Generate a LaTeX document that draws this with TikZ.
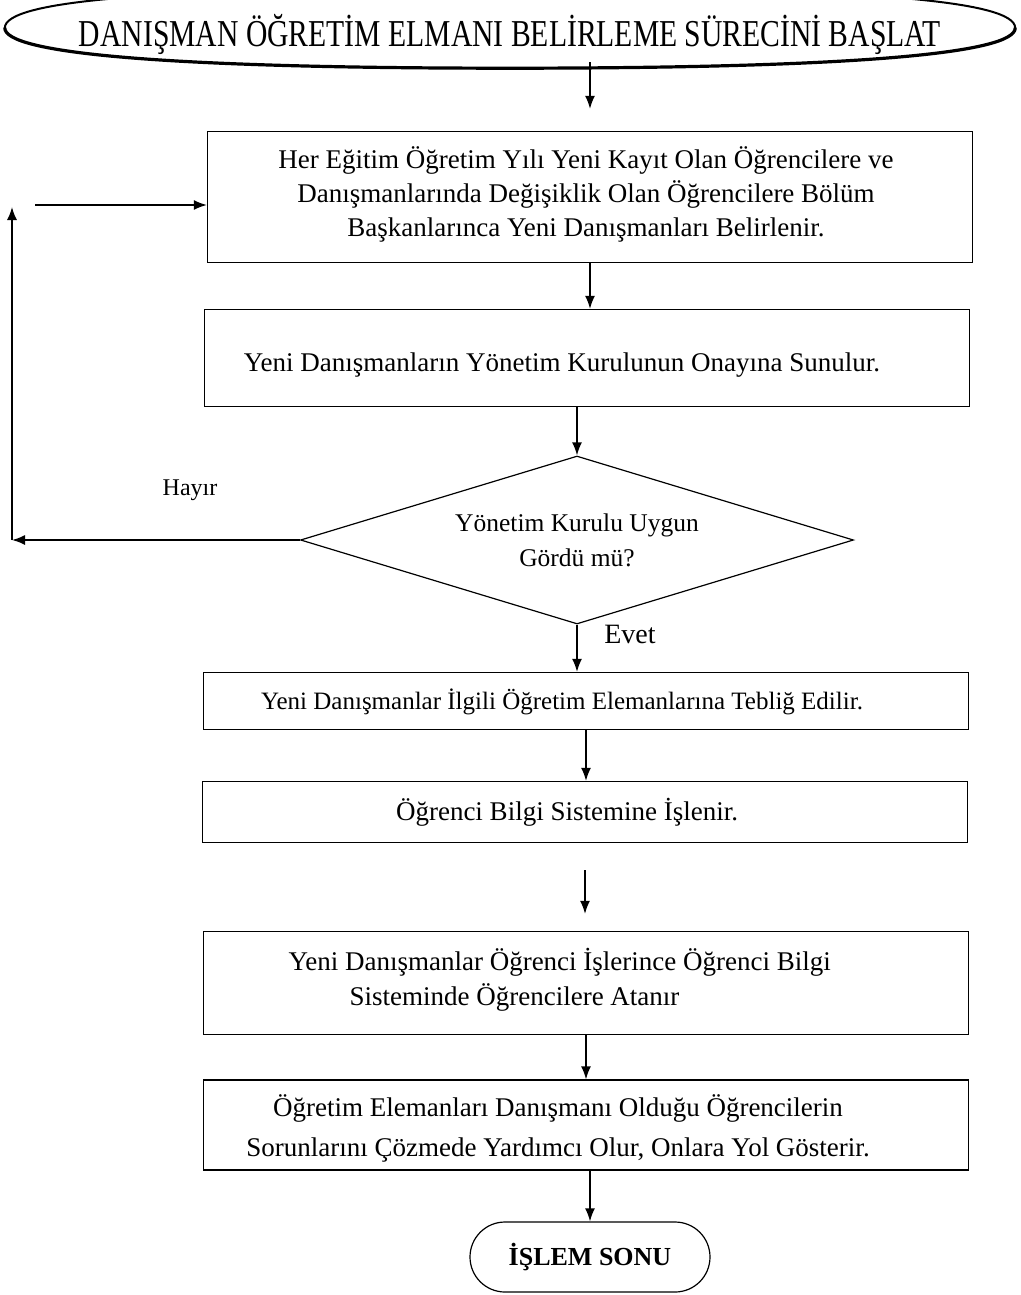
\documentclass[tikz,border=0pt]{standalone}
\usepackage{fontspec}
\setmainfont{Liberation Serif}
\usetikzlibrary{shapes.geometric,arrows.meta}

\begin{document}
\begin{tikzpicture}[x=1pt,y=-1pt,
  kutu/.style={draw,line width=1.2pt,minimum width=765,minimum height=#1},
  ok/.style={-{Latex[length=13pt,width=10pt]},line width=1.6pt},
  yazi/.style={font=\fontsize{27}{34}\selectfont,align=center}]
\useasboundingbox (0,0) rectangle (1020,1295);
% baslangic
\node[minimum width=1010,minimum height=80] (basla) at (510,28) {};
\draw[line width=3.2pt,line cap=round] (basla.west) .. controls +(0,25) and +(-350,0) .. (basla.south)
  .. controls +(350,0) and +(0,25) .. (basla.east);
\draw[line width=2pt,line cap=round] (basla.east) .. controls +(0,-28) and +(350,0) .. (basla.north)
  .. controls +(-350,0) and +(0,-28) .. (basla.west);
\node[font=\fontsize{38}{40}\selectfont] (baslik) at (510,34)
  {\scalebox{0.78}[1]{DANIŞMAN ÖĞRETİM ELMANI BELİRLEME SÜRECİNİ BAŞLAT}};
% kutular
\node[kutu=131] (b1) at (590,197) {};
\node[kutu=97] (b2) at (587,358) {};
\node[draw,diamond,aspect=3.3,line width=1.2pt,minimum width=553,minimum height=168,
  align=center,font=\fontsize{25.5}{35}\selectfont] (karar) at (577,540)
  {Yönetim Kurulu Uygun\\Gördü mü?};
\node[kutu=57] (b3) at (586,701) {};
\node[kutu=61] (b4) at (585,812) {};
\node[kutu=103] (b5) at (586,983) {};
\node[kutu=90] (b6) at (586,1125) {};
\node[draw,line width=1.2pt,rounded corners=35pt,minimum width=240,minimum height=70,
  font=\bfseries\fontsize{26}{30}\selectfont] (son) at (590,1257) {İŞLEM SONU};
% yazilar
\node[yazi] (t1) at (586,194) {Her Eğitim Öğretim Yılı Yeni Kayıt Olan Öğrencilere ve\\
  Danışmanlarında Değişiklik Olan Öğrencilere Bölüm\\
  Başkanlarınca Yeni Danışmanları Belirlenir.};
\node[yazi] (t2) at (562,365) {Yeni Danışmanların Yönetim Kurulunun Onayına Sunulur.};
\node[yazi,font=\fontsize{25}{30}\selectfont] (t3) at (562,702)
  {Yeni Danışmanlar İlgili Öğretim Elemanlarına Tebliğ Edilir.};
\node[yazi] (t4) at (567,812) {Öğrenci Bilgi Sistemine İşlenir.};
\node[yazi,align=left,anchor=west,font=\fontsize{27}{35}\selectfont] (t5) at (285,980)
  {Yeni Danışmanlar Öğrenci İşlerince Öğrenci Bilgi\\\hspace*{61pt}Sisteminde Öğrencilere Atanır};
\node[yazi,font=\fontsize{27}{40}\selectfont] (t6) at (558,1128)
  {Öğretim Elemanları Danışmanı Olduğu Öğrencilerin\\
  Sorunlarını Çözmede Yardımcı Olur, Onlara Yol Gösterir.};
\node[font=\fontsize{24}{28}\selectfont] (hayir) at (190,490) {Hayır};
\node[font=\fontsize{28}{32}\selectfont] (evet) at (630,634) {Evet};
% oklar
\draw[ok,shorten <=-6pt,shorten >=22pt] (basla.south -| b1.north) -- (b1.north);
\draw[ok] (b1.south) -- (b1.south |- b2.north);
\draw[ok] (b2.south -| karar.north) -- (karar.north);
\draw[ok] (karar.south) -- (karar.south |- b3.north);
\draw[ok] (b3.south) -- (b3.south |- b4.north);
\draw[ok,shorten <=27pt,shorten >=17pt] (b4.south) -- (b4.south |- b5.north);
\draw[ok] (b5.south) -- (b5.south |- b6.north);
\draw[ok] (b6.south -| son.north) -- (son.north);
% hayir dongusu
\coordinate (sol) at (12,540);
\coordinate (solust) at (12,207);
\coordinate (giris) at (35,205);
\draw[ok] (karar.west) -- (sol);
\draw[ok] (sol) -- (solust);
\draw[ok] (giris) -- (giris -| b1.west);
\end{tikzpicture}
\end{document}
